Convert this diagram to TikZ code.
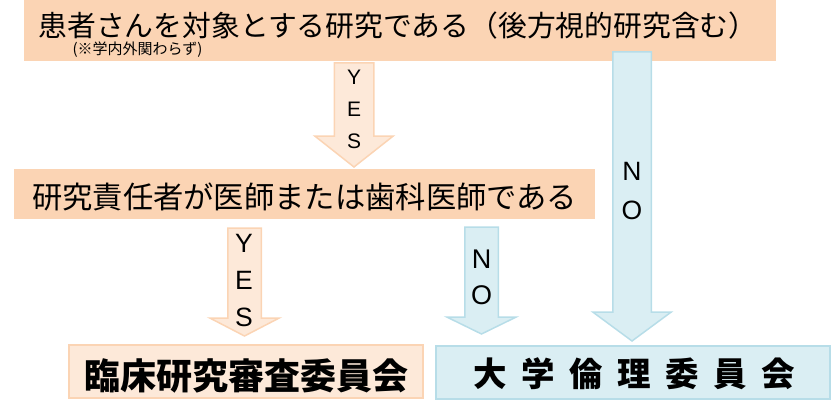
\documentclass[tikz,border=0pt]{standalone}
\usepackage{fontspec}
\setmainfont{Noto Sans CJK JP}
\newfontfamily\latinfont{Liberation Sans}
\usetikzlibrary{calc}
\definecolor{peach}{HTML}{FBD4B4}
\definecolor{peachlight}{HTML}{FDE9D9}
\definecolor{bluelight}{HTML}{DAEEF3}
\definecolor{blueedge}{HTML}{B7DDE8}
\tikzset{
  question/.style={fill=peach, inner sep=0pt, anchor=north west},
  clinical/.style={fill=peachlight, draw=peach, line width=2pt, inner sep=0pt, anchor=north west},
  ethics/.style={fill=bluelight, draw=blueedge, line width=2pt, inner sep=0pt, anchor=north west},
  yesarrow/.style={fill=peachlight, draw=peach, line width=1.5pt},
  noarrow/.style={fill=bluelight, draw=blueedge, line width=1.5pt},
  letters/.style={align=center, inner sep=0pt}
}
% block arrow: style, top, tip, shaft half width, head half width, head length
\newcommand{\blockarrow}[6]{%
  \draw[#1] let \p1=(#2), \p2=(#3) in
    (\x1-#4pt,\y1) -- (\x1+#4pt,\y1) -- (\x1+#4pt,\y2+#6pt) -- (\x1+#5pt,\y2+#6pt)
    -- (\x2,\y2) -- (\x1-#5pt,\y2+#6pt) -- (\x1-#4pt,\y2+#6pt) -- cycle;
}

\begin{document}
\begin{tikzpicture}[x=1pt, y=-1pt]
  \useasboundingbox (0,0) rectangle (838,404);

  % Questions
  \node[question, minimum width=752pt, minimum height=61pt] (q1) at (24,0) {};
  \node[inner sep=0pt, font=\fontsize{28.8}{30}\selectfont] (q1text) at (398,25.5) {患者さんを対象とする研究である（後方視的研究含む）};
  \node[inner sep=0pt, font=\fontsize{15}{15}\selectfont] (q1note) at (137.5,50) {(※学内外関わらず)};
  \node[question, minimum width=581pt, minimum height=50pt] (q2) at (14,169) {};
  \node[inner sep=0pt, font=\fontsize{30.3}{31}\selectfont] (q2text) at ([yshift=-3pt]q2.center) {研究責任者が医師または歯科医師である};

  % Committees
  \node[clinical, minimum width=354pt, minimum height=53pt] (crb) at (68,344) {};
  \node[inner sep=0pt, font=\fontsize{36}{36}\bfseries\selectfont] (crbtext) at ([yshift=-4pt]crb.center) {臨床研究審査委員会};
  \node[ethics, minimum width=394pt, minimum height=53pt] (irb) at (435,345) {};
  \node[inner sep=0pt, font=\fontsize{33.5}{34}\bfseries\selectfont] (irbtext) at ([xshift=1pt,yshift=-1pt]irb.center)
    {大\hskip14.5pt 学\hskip14.5pt 倫\hskip14.5pt 理\hskip14.5pt 委\hskip14.5pt 員\hskip14.5pt 会};

  % Arrows
  \coordinate (yes1top) at (354,63);
  \coordinate (yes1tip) at (354,167);
  \coordinate (yes2top) at (244.5,228);
  \coordinate (yes2tip) at (244.5,336);
  \coordinate (no1top) at (481.5,227);
  \coordinate (no1tip) at (481.5,334);
  \coordinate (no2top) at (632,52);
  \coordinate (no2tip) at (632,341);
  \blockarrow{yesarrow}{yes1top}{yes1tip}{19.75}{39.25}{31}
  \blockarrow{yesarrow}{yes2top}{yes2tip}{16.75}{34.75}{18}
  \blockarrow{noarrow}{no1top}{no1tip}{16.75}{34.75}{17}
  \blockarrow{noarrow}{no2top}{no2tip}{19.25}{39.25}{29}

  % Labels
  \node[letters, font=\latinfont\fontsize{21}{32}\selectfont] (yes1) at (354,109) {Y\\E\\S};
  \node[letters, font=\latinfont\fontsize{26.5}{37}\selectfont] (yes2) at (244,281) {Y\\E\\S};
  \node[letters, font=\latinfont\fontsize{27}{36.5}\selectfont] (no1) at (481.5,277.5) {N\\O};
  \node[letters, font=\latinfont\fontsize{26.5}{39}\selectfont] (no2) at (632,191.5) {N\\O};
\end{tikzpicture}
\end{document}
